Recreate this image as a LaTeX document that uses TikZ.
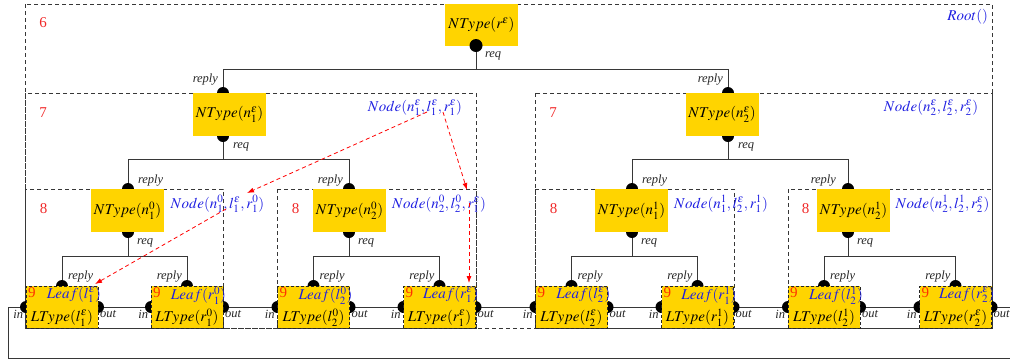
\documentclass[tikz,border=0pt]{standalone}
\usepackage{mathptmx}
\usepackage[no-math]{fontspec}
\setmainfont{Liberation Serif}
\usetikzlibrary{arrows.meta}
\pgfdeclarelayer{bg}
\pgfsetlayers{bg,main}
\definecolor{nyellow}{RGB}{255,212,0}
\definecolor{lvlred}{RGB}{240,40,40}
\definecolor{ninered}{RGB}{255,50,0}
\definecolor{nblue}{RGB}{30,30,225}
\definecolor{linegray}{RGB}{55,55,55}
\begin{document}
\begin{tikzpicture}[x=1pt,y=-1pt,
  every node/.style={font=\fontsize{15}{17}\selectfont, inner sep=0pt, outer sep=0pt},
  lvlbox/.style={draw=linegray, dash pattern=on 4pt off 3pt, line width=0.8pt},
  ntype/.style={fill=nyellow, minimum width=73pt, minimum height=43pt},
  leafbox/.style={fill=nyellow, draw=black!85, dash pattern=on 3pt off 2pt, line width=0.7pt, minimum width=72pt, minimum height=42pt},
  wire/.style={draw=linegray, line width=0.8pt},
  lbl/.style={font=\fontsize{12.5}{14}\selectfont\itshape, text=black!85},
  lvlnum/.style={text=lvlred},
  nine/.style={text=ninered},
  bluelbl/.style={text=nblue},
  redarrow/.style={draw=red, line width=0.8pt, dash pattern=on 4pt off 3pt, -{Latex[length=7pt,width=5pt]}}
]
\useasboundingbox (0,0) rectangle (1010,360);

% ---------- yellow type nodes ----------
\node[ntype, minimum height=41.5pt] (root) at (481.5,24.75) {$NType(r^\epsilon)$};
\node[ntype] (n1e) at (229.5,114.5) {$NType(n_1^\epsilon)$};
\node[ntype] (n2e) at (722,114.5) {$NType(n_2^\epsilon)$};
\node[ntype] (n10) at (127.5,210.5) {$NType(n_1^0)$};
\node[ntype] (n20) at (349.5,210.5) {$NType(n_2^0)$};
\node[ntype] (n11) at (631.5,210.5) {$NType(n_1^1)$};
\node[ntype] (n21) at (853.5,210.5) {$NType(n_2^1)$};

% ---------- leaves ----------
\foreach \n/\x/\a in {l1/62/l_1^\epsilon, l2/187/r_1^0, l3/313.5/l_2^0, l4/439.5/r_1^\epsilon,
                      l5/571.5/l_2^\epsilon, l6/697.5/r_1^1, l7/824/l_2^1, l8/955.5/r_2^\epsilon}{
  \node[leafbox] (\n) at (\x,307) {};
  \node[nine, anchor=north west] (\n-nine) at ([shift={(2,2)}]\n.north west) {9};
  \node[bluelbl, anchor=north east] (\n-leaf) at ([shift={(3,1)}]\n.north east) {$Leaf(\a)$};
  \node[anchor=south] (\n-lt) at ([shift={(0,-2)}]\n.south) {$LType(\a)$};
  \node[lbl, anchor=north east] (\n-in) at ([shift={(-3,3)}]\n.west) {in};
  \node[lbl, anchor=north west] (\n-out) at ([shift={(2,3)}]\n.east) {out};
}

% ---------- port coordinates ----------
\coordinate (root-q) at (476,45.5);
\coordinate (n1e-p) at (223,93);  \coordinate (n1e-q) at (223,136);
\coordinate (n2e-p) at (728,93);  \coordinate (n2e-q) at (728,136);
\coordinate (n10-p) at (128,189); \coordinate (n10-q) at (128,232);
\coordinate (n20-p) at (349,189); \coordinate (n20-q) at (349,232);
\coordinate (n11-p) at (632,189); \coordinate (n11-q) at (632,232);
\coordinate (n21-p) at (848,189); \coordinate (n21-q) at (848,232);
\coordinate (b0) at (0,69);
\coordinate (b1) at (0,159);
\coordinate (b2) at (0,256);
\coordinate (loopA) at (8,307);
\coordinate (loopB) at (8,358);
\coordinate (loopC) at (1016,358);
\coordinate (loopD) at (1016,307);

\begin{pgfonlayer}{bg}
  % level boxes
  \draw[lvlbox] (25,4) rectangle (992,328);
  \draw[lvlbox] (25,93) rectangle (476,328);
  \draw[lvlbox] (535,93) rectangle (992,328);
  \draw[lvlbox] (25,189) rectangle (223,328);
  \draw[lvlbox] (277,189) rectangle (476,328);
  \draw[lvlbox] (535,189) rectangle (734,328);
  \draw[lvlbox] (788,189) rectangle (992,328);
  % tree wires
  \draw[wire] (root-q) -- (root-q |- b0);
  \draw[wire] (n1e-p) |- (n2e-p |- b0) -- (n2e-p);
  \draw[wire] (n1e-q) -- (n1e-q |- b1);
  \draw[wire] (n10-p) |- (n20-p |- b1) -- (n20-p);
  \draw[wire] (n2e-q) -- (n2e-q |- b1);
  \draw[wire] (n11-p) |- (n21-p |- b1) -- (n21-p);
  \draw[wire] (n10-q) -- (n10-q |- b2);
  \draw[wire] (l1.north) |- (l2.north |- b2) -- (l2.north);
  \draw[wire] (n20-q) -- (n20-q |- b2);
  \draw[wire] (l3.north) |- (l4.north |- b2) -- (l4.north);
  \draw[wire] (n11-q) -- (n11-q |- b2);
  \draw[wire] (l5.north) |- (l6.north |- b2) -- (l6.north);
  \draw[wire] (n21-q) -- (n21-q |- b2);
  \draw[wire] (l7.north) |- (l8.north |- b2) -- (l8.north);
  % leaf chain
  \draw[wire] (l1.east) -- (l2.west);
  \draw[wire] (l2.east) -- (l3.west);
  \draw[wire] (l3.east) -- (l4.west);
  \draw[wire] (l4.east) -- (l5.west);
  \draw[wire] (l5.east) -- (l6.west);
  \draw[wire] (l6.east) -- (l7.west);
  \draw[wire] (l7.east) -- (l8.west);
  \draw[wire] (l1.west) -- (loopA) -- (loopB) -- (loopC) -- (loopD) -- (l8.east);
  % port dots
  \foreach \c in {n1e-p,n1e-q,n2e-p,n2e-q,n10-p,n10-q,n20-p,n20-q,n11-p,n11-q,n21-p,n21-q}
    \fill (\c) circle (6pt);
  \foreach \n in {l1,l2,l3,l4,l5,l6,l7,l8}{
    \fill (\n.north) circle (6pt);
    \fill (\n.west) circle (6pt);
    \fill (\n.east) circle (6pt);
  }
\end{pgfonlayer}
\fill (root-q) circle (6.5pt);

% ---------- wire labels ----------
\node[lbl, anchor=base west] (t-req0) at (485,57) {req};
\node[lbl, anchor=base east] (t-rep1) at (218,82) {reply};
\node[lbl, anchor=base east] (t-rep2) at (723,82) {reply};
\node[lbl, anchor=base west] (t-req1) at (233,148) {req};
\node[lbl, anchor=base west] (t-req2) at (738,148) {req};
\node[lbl, anchor=base west] (t-rep3) at (138,183) {reply};
\node[lbl, anchor=base east] (t-rep4) at (343,183) {reply};
\node[lbl, anchor=base west] (t-rep5) at (642,183) {reply};
\node[lbl, anchor=base east] (t-rep6) at (836,183) {reply};
\node[lbl, anchor=base west] (t-req3) at (137,244) {req};
\node[lbl, anchor=base west] (t-req4) at (358,244) {req};
\node[lbl, anchor=base west] (t-req5) at (641,244) {req};
\node[lbl, anchor=base west] (t-req6) at (857,244) {req};
\foreach \n in {l1,l3,l5,l7}
  \node[lbl, anchor=base west] (\n-rep) at ([shift={(6,-7)}]\n.north) {reply};
\foreach \n in {l2,l4,l6,l8}
  \node[lbl, anchor=base east] (\n-rep) at ([shift={(-5,-7)}]\n.north) {reply};

% ---------- level numbers ----------
\node[lvlnum] (lv6) at (43,23) {6};
\node[lvlnum] (lv7a) at (43,113) {7};
\node[lvlnum] (lv7b) at (553,113) {7};
\node[lvlnum] (lv8a) at (43.5,209) {8};
\node[lvlnum] (lv8b) at (295.5,209) {8};
\node[lvlnum] (lv8c) at (553.5,209) {8};
\node[lvlnum] (lv8d) at (805.5,209) {8};

% ---------- blue labels ----------
\node[bluelbl, anchor=east] (lb-root) at (988,17) {$Root()$};
\node[bluelbl] (lb-n1e) at (415,108) {$Node(n_1^\epsilon,l_1^\epsilon,r_1^\epsilon)$};
\node[bluelbl] (lb-n2e) at (931,108) {$Node(n_2^\epsilon,l_2^\epsilon,r_2^\epsilon)$};
\node[bluelbl] (lb-n10) at (217.5,204) {$Node(n_1^0,l_1^\epsilon,r_1^0)$};
\node[bluelbl] (lb-n20) at (439,204) {$Node(n_2^0,l_2^0,r_1^\epsilon)$};
\node[bluelbl] (lb-n11) at (721,204) {$Node(n_1^1,l_2^\epsilon,r_1^1)$};
\node[bluelbl] (lb-n21) at (942.5,204) {$Node(n_2^1,l_2^1,r_2^\epsilon)$};

% ---------- red dashed arrows ----------
\coordinate (a1s) at (427,112);
\coordinate (a1e) at (247,193);
\coordinate (a2s) at (226,209);
\coordinate (a2e) at (95,284);
\coordinate (a3s) at (443,112);
\coordinate (a3e) at (467,190);
\coordinate (a4s) at (469,203);
\coordinate (a4e) at (469,283);
\draw[redarrow] (a1s) -- (a1e);
\draw[redarrow] (a2s) -- (a2e);
\draw[redarrow] (a3s) -- (a3e);
\draw[redarrow] (a4s) -- (a4e);
\end{tikzpicture}
\end{document}
